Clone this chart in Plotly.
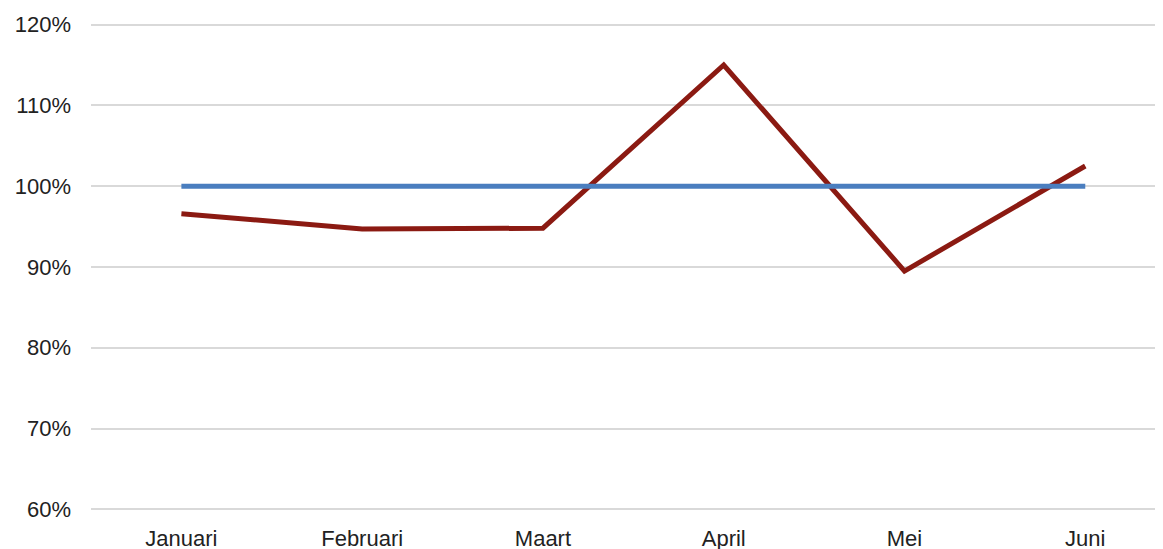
import plotly.graph_objects as go

months = ["Januari", "Februari", "Maart", "April", "Mei", "Juni"]
actual = [96.6, 94.7, 94.8, 115.0, 89.5, 102.5]
target = [100, 100, 100, 100, 100, 100]
y_ticks = [60, 70, 80, 90, 100, 110, 120]
y_labels = ["60%", "70%", "80%", "90%", "100%", "110%", "120%"]

fig = go.Figure()
fig.add_trace(go.Scatter(x=months, y=actual, mode="lines",
                         line=dict(color="#8B1A12", width=5), showlegend=False))
fig.add_trace(go.Scatter(x=months, y=target, mode="lines",
                         line=dict(color="#4A7EBF", width=5), showlegend=False))

fig.update_layout(
    width=1155, height=541,
    margin=dict(l=83, r=0, t=15, b=38, autoexpand=False),
    plot_bgcolor="white", paper_bgcolor="white",
    font=dict(family="Liberation Sans, Arial, sans-serif", size=22, color="#222222"),
    xaxis=dict(type="category", range=[-0.5, 5.43], showgrid=False, showline=False,
               zeroline=False, ticks="", ticklabelstandoff=12),
    yaxis=dict(range=[59.8, 120.2], tickvals=y_ticks, ticktext=y_labels,
               showgrid=True, gridcolor="#D9D9D9", gridwidth=1.5,
               zeroline=False, showline=False, ticks="", ticklabelstandoff=19),
)
fig.write_html("out.html")
